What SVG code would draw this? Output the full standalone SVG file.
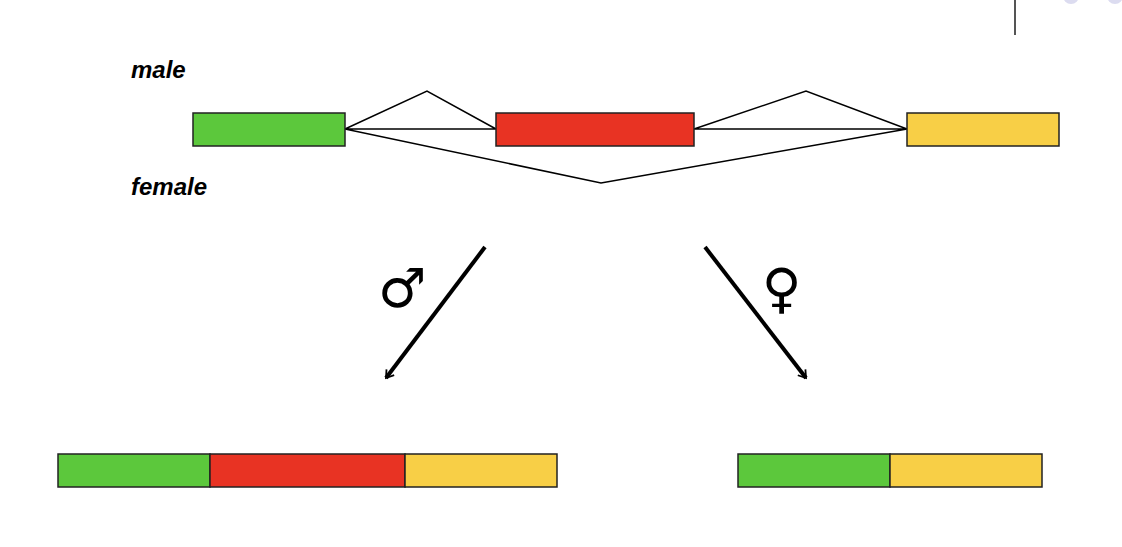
<svg xmlns="http://www.w3.org/2000/svg" width="1122" height="547" viewBox="0 0 1122 547">
<style>
.g{fill:#5cc83c}.r{fill:#e83323}.y{fill:#f8cf46}
rect{stroke:#222;stroke-width:1.5}
.lbl{font-family:"Liberation Sans",Arial,sans-serif;font-weight:bold;font-style:italic;font-size:24px;fill:#000}
.sym{font-family:"DejaVu Sans",sans-serif;font-size:54px;fill:#000}
.thin{fill:none;stroke:#000;stroke-width:1.5}
.arr{fill:none;stroke:#000;stroke-width:4}
</style>
<defs><marker id="ah" viewBox="0 0 10 10" refX="9" refY="5" markerWidth="6" markerHeight="6" orient="auto" markerUnits="userSpaceOnUse" overflow="visible"><path d="M-12,-8 L0,0 L-12,8" transform="translate(9,5)" fill="none" stroke="#000" stroke-width="3"/></marker></defs>
<line x1="1015" y1="0" x2="1015" y2="35" stroke="#555" stroke-width="2"/>
<circle cx="1071" cy="-4" r="8" fill="#dcdcf0"/>
<circle cx="1115" cy="-4" r="8" fill="#dcdcf0"/>
<text class="lbl" x="131" y="78">male</text>
<text class="lbl" x="131" y="195">female</text>
<g id="connectors">
<path class="thin" d="M345,129 L427,91 L496,129 M345,129 L496,129 M694,129 L806,91 L907,129 M694,129 L907,129 M345,129 L601,183 L907,129"/>
<line class="arr" x1="485" y1="247" x2="386" y2="378" marker-end="url(#ah)"/>
<line class="arr" x1="705" y1="247" x2="806" y2="378" marker-end="url(#ah)"/>
</g>
<g id="exon1"><rect class="g" x="193" y="113" width="152" height="33"/></g>
<g id="exon2"><rect class="r" x="496" y="113" width="198" height="33"/></g>
<g id="exon3"><rect class="y" x="907" y="113" width="152" height="33"/></g>
<text class="sym" x="378" y="307">♂</text>
<text class="sym" x="762" y="307">♀</text>
<g id="male-mrna"><rect class="g" x="58" y="454" width="152" height="33"/><rect class="r" x="210" y="454" width="195" height="33"/><rect class="y" x="405" y="454" width="152" height="33"/></g>
<g id="female-mrna"><rect class="g" x="738" y="454" width="152" height="33"/><rect class="y" x="890" y="454" width="152" height="33"/></g>
</svg>
